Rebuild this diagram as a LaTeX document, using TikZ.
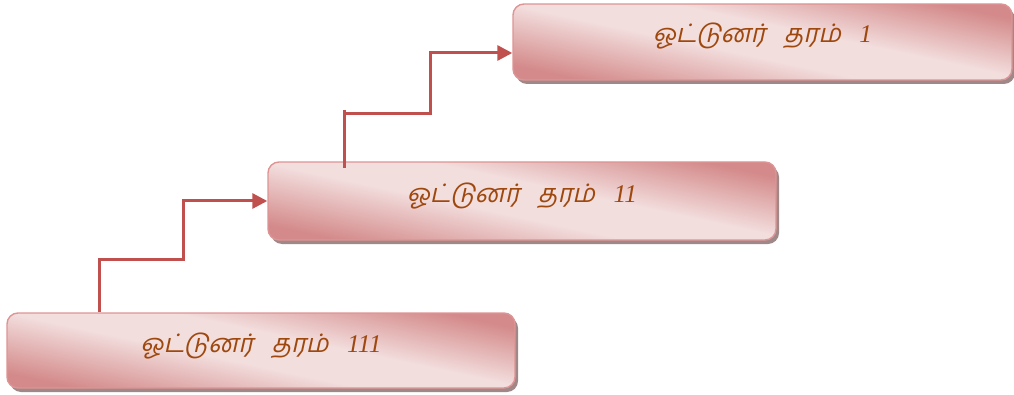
\documentclass[tikz,border=0pt]{standalone}
\usepackage{fontspec}
\usetikzlibrary{arrows.meta,shadows,calc}
\newfontfamily\tamilfont[Script=Tamil,FakeSlant=0.22]{Hind Madurai}
\newfontfamily\numfont{Liberation Serif}
\definecolor{boxdark}{RGB}{212,138,138}
\definecolor{boxlight}{RGB}{243,222,222}
\definecolor{boxline}{RGB}{222,148,148}
\definecolor{linkred}{RGB}{192,80,77}
\definecolor{textbrown}{RGB}{158,72,14}
\definecolor{shadowgray}{RGB}{160,136,136}
\pgfdeclarehorizontalshading{pinkband}{100bp}{color(0bp)=(boxdark); color(25bp)=(boxdark); color(45bp)=(boxlight); color(56bp)=(boxlight); color(75bp)=(boxdark); color(100bp)=(boxdark)}
\newcommand{\tharam}[1]{{\tamilfont ஓட்டுனர்\hspace{0.72em}தரம்}\hspace{0.72em}{\numfont\itshape #1}}

\begin{document}
\begin{tikzpicture}[%
x=1pt,y=1pt,
level/.style={rounded corners=11pt,minimum height=76pt,inner sep=0pt,
  shading=pinkband,shading angle=78,draw=boxline,line width=1.4pt,
  text=textbrown,font=\fontsize{25.5}{30}\selectfont,
  text height=15pt,text depth=13pt,
  drop shadow={shadow xshift=3pt,shadow yshift=-4pt,fill=shadowgray,opacity=1}},
link/.style={linkred,line width=3pt},
pil/.style={-{Triangle[length=15pt,width=15pt]}}]
\useasboundingbox (0,0) rectangle (1014,394);
\node [level,minimum width=499pt] (grade1) at (762.5,352) {\tharam{1}};
\node [level,minimum width=508pt,minimum height=78pt] (grade2) at (522,193) {\tharam{11}};
\node [level,minimum width=508pt,minimum height=75pt,text height=16pt] (grade3) at (261,43.5) {\tharam{111}};
% elbows
\coordinate (knee1) at (183,135);
\coordinate (foot1) at (99,0);
\coordinate (foot2) at (344,226);
\coordinate (top2)  at (344,284);
\coordinate (knee2) at (430,280);
\coordinate (end1)  at ($(grade1.west)+(0,-11)$);
\draw [link,pil] (grade3.north -| foot1) |- (knee1) |- (grade2.west);
\draw [link] (foot2) -- (top2);
\draw [link,pil] (foot2 |- knee2) -- (knee2) |- (end1);
\end{tikzpicture}
\end{document}
